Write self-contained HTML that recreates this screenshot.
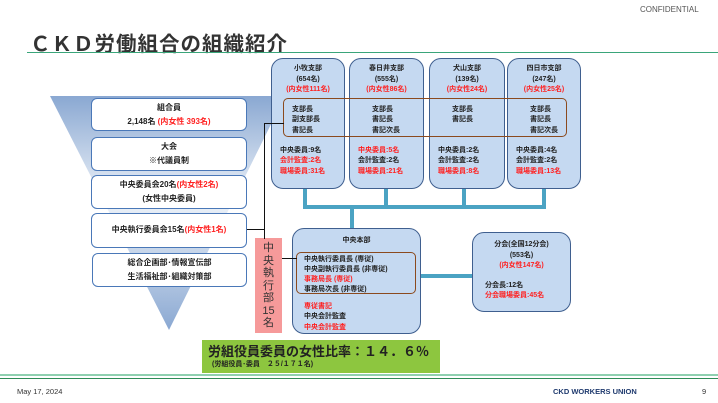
<!DOCTYPE html>
<html><head><meta charset="utf-8"><style>
*{margin:0;padding:0;box-sizing:border-box}
body{width:718px;height:403px;background:#fff;position:relative;overflow:hidden;font-family:"Liberation Sans","Noto Sans CJK JP",sans-serif;color:#222}
.a{position:absolute}
.box{position:absolute;background:#fff;border:1.5px solid #4a78b8;border-radius:6px;text-align:center;font-size:8px;line-height:14px;font-weight:bold;white-space:nowrap}
.r{color:#ff2020}
.br{position:absolute;background:#c5d9f1;border:1.5px solid #3f5f8f;border-radius:12px;font-size:7px;font-weight:bold;line-height:10.5px;white-space:nowrap}
.t{position:absolute;background:#4ba3c3}
.ln{position:absolute;background:#111}
</style></head><body>
<div class="a" style="left:640px;top:5px;font-size:8px;color:#555">CONFIDENTIAL</div>
<div class="a" style="left:30px;top:27px;font-size:20.5px;font-weight:bold;color:#333;letter-spacing:1px;white-space:nowrap">ＣＫＤ労働組合の組織紹介</div>
<div class="a" style="left:27px;top:52px;width:691px;height:1px;background:#3aa57a"></div>

<svg class="a" style="left:0;top:0" width="718" height="403">
<defs><linearGradient id="g" x1="0" y1="0" x2="0" y2="1"><stop offset="0" stop-color="#8aa8d2"/><stop offset="0.45" stop-color="#eef3f9"/><stop offset="1" stop-color="#8aa8d2"/></linearGradient></defs>
<polygon points="50,96 285,96 169,330" fill="url(#g)"/>
</svg>

<div class="box" style="left:91px;top:98px;width:156px;height:33px;padding-top:2px">組合員<br>2,148名 <span class="r">(内女性 393名)</span></div>
<div class="box" style="left:91px;top:137px;width:156px;height:34px;padding-top:2px">大会<br>※代議員制</div>
<div class="box" style="left:91px;top:175px;width:156px;height:34px;padding-top:2px">中央委員会20名<span class="r">(内女性2名)</span><br>(女性中央委員)</div>
<div class="box" style="left:91px;top:213px;width:156px;height:35px;padding-top:9px">中央執行委員会15名<span class="r">(内女性1名)</span></div>
<div class="box" style="left:92px;top:253px;width:155px;height:34px;padding-top:2px">総合企画部･情報宣伝部<br>生活福祉部･組織対策部</div>

<div class="br" style="left:271px;top:58px;width:74px;height:131px;padding:5px 0 0 8px"><div style="text-align:center;margin-left:-8px">小牧支部<br>(654名)<br><span class="r">(内女性111名)</span></div><div style="margin:9px 0 0 12px;height:34px">支部長<br>副支部長<br>書記長</div><div style="margin-top:7px">中央委員:9名<br><span class="r">会計監査:2名<br>職場委員:31名</span></div></div>
<div class="br" style="left:349px;top:58px;width:75px;height:131px;padding:5px 0 0 8px"><div style="text-align:center;margin-left:-8px">春日井支部<br>(555名)<br><span class="r">(内女性86名)</span></div><div style="margin:9px 0 0 14px;height:34px">支部長<br>書記長<br>書記次長</div><div style="margin-top:7px"><span class="r">中央委員:5名</span><br>会計監査:2名<br><span class="r">職場委員:21名</span></div></div>
<div class="br" style="left:429px;top:58px;width:76px;height:131px;padding:5px 0 0 8px"><div style="text-align:center;margin-left:-8px">犬山支部<br>(139名)<br><span class="r">(内女性24名)</span></div><div style="margin:9px 0 0 14px;height:34px">支部長<br>書記長</div><div style="margin-top:7px">中央委員:2名<br>会計監査:2名<br><span class="r">職場委員:8名</span></div></div>
<div class="br" style="left:507px;top:58px;width:74px;height:131px;padding:5px 0 0 8px"><div style="text-align:center;margin-left:-8px">四日市支部<br>(247名)<br><span class="r">(内女性25名)</span></div><div style="margin:9px 0 0 14px;height:34px">支部長<br>書記長<br>書記次長</div><div style="margin-top:7px">中央委員:4名<br>会計監査:2名<br><span class="r">職場委員:13名</span></div></div>
<div class="a" style="left:283px;top:98px;width:284px;height:39px;border:1.5px solid #8b4a1e;border-radius:5px"></div>

<div class="t" style="left:303px;top:189px;width:4px;height:20px"></div>
<div class="t" style="left:384px;top:189px;width:4px;height:20px"></div>
<div class="t" style="left:462px;top:189px;width:4px;height:20px"></div>
<div class="t" style="left:542px;top:189px;width:4px;height:20px"></div>
<div class="t" style="left:303px;top:205px;width:243px;height:4px"></div>
<div class="t" style="left:350px;top:205px;width:4px;height:24px"></div>
<div class="t" style="left:420px;top:274px;width:53px;height:4px"></div>

<div class="br" style="left:292px;top:228px;width:129px;height:106px;padding:7px 0 0 11px"><div style="text-align:center;margin-left:-11px">中央本部</div><div style="margin-top:8px;line-height:10px">中央執行委員長 (専従)<br>中央副執行委員長 (非専従)<br><span class="r">事務局長 (専従)</span><br>事務局次長 (非専従)</div><div style="margin-top:7px;line-height:10.5px"><span class="r">専従書記</span><br>中央会計監査<br><span class="r">中央会計監査</span></div></div>
<div class="a" style="left:296px;top:252px;width:120px;height:42px;border:1.5px solid #8b4a1e;border-radius:5px"></div>

<div class="br" style="left:472px;top:232px;width:99px;height:80px;padding:7px 0 0 12px"><div style="text-align:center;margin-left:-12px">分会(全国12分会)<br>(553名)<br><span class="r">(内女性147名)</span></div><div style="margin-top:9px">分会長:12名<br><span class="r">分会職場委員:45名</span></div></div>

<div class="a" style="left:255px;top:238px;width:27px;height:95px;background:#f69a9a;font-size:11px;line-height:12.5px;text-align:center;padding-top:4px;color:#333">中<br>央<br>執<br>行<br>部<br>15<br>名</div>

<div class="ln" style="left:247px;top:229px;width:18px;height:1px"></div>
<div class="ln" style="left:264px;top:123px;width:1px;height:116px"></div>
<div class="ln" style="left:264px;top:123px;width:20px;height:1px"></div>
<div class="ln" style="left:282px;top:258px;width:15px;height:1px"></div>

<div class="a" style="left:202px;top:340px;width:238px;height:33px;background:#8dc63f;padding:4px 0 0 6px;white-space:nowrap"><div style="font-size:13px;font-weight:bold;line-height:16px;color:#222">労組役員委員の女性比率：１４．６％</div><div style="font-size:7px;font-weight:bold;line-height:10px;padding-left:4px">(労組役員･委員　２５/１７１名)</div></div>

<div class="a" style="left:0;top:374px;width:718px;height:2px;background:#8fd0b0"></div>
<div class="a" style="left:0;top:378px;width:718px;height:1px;background:#2e8b57"></div>
<div class="a" style="left:17px;top:387px;font-size:7.5px;color:#333">May 17, 2024</div>
<div class="a" style="left:553px;top:387px;font-size:7.5px;font-weight:bold;color:#1f3a6e">CKD WORKERS UNION</div>
<div class="a" style="left:702px;top:387px;font-size:7.5px;color:#333">9</div>
</body></html>
